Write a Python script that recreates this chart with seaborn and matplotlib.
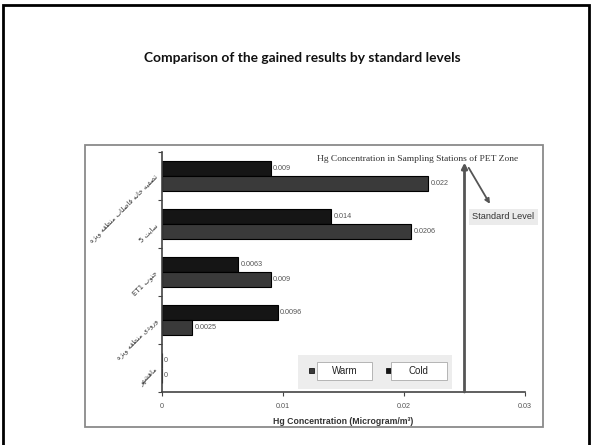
import matplotlib
matplotlib.use("Agg")
import matplotlib.pyplot as plt
from matplotlib.patches import Rectangle
import pandas as pd
import seaborn as sns

# ---- data -------------------------------------------------------------
stations = ["تصفیه خانه فاضلاب منطقه ویژه", "سایت 5", "جنوب ET1",
            "ورودی منطقه ویژه", "ماهشهر"]
seasons = ["Warm", "Cold"]
warm = [0.022, 0.0206, 0.009, 0.0025, 0]
cold = [0.009, 0.014, 0.0063, 0.0096, 0]
x_ticks = [0, 0.01, 0.02, 0.03]
x_tick_labels = ["0", "0.01", "0.02", "0.03"]
standard_level = 0.025
season_colors = {"Warm": "#3a3a3a", "Cold": "#151515"}

# ---- minimal Persian shaping (matplotlib has no complex text layout) --
FORMS = {
    'ا': (0xFE8D, 0xFE8E, None, None), 'آ': (0xFE81, 0xFE82, None, None),
    'ب': (0xFE8F, 0xFE90, 0xFE91, 0xFE92), 'پ': (0xFB56, 0xFB57, 0xFB58, 0xFB59),
    'ت': (0xFE95, 0xFE96, 0xFE97, 0xFE98), 'ث': (0xFE99, 0xFE9A, 0xFE9B, 0xFE9C),
    'ج': (0xFE9D, 0xFE9E, 0xFE9F, 0xFEA0), 'چ': (0xFB7A, 0xFB7B, 0xFB7C, 0xFB7D),
    'ح': (0xFEA1, 0xFEA2, 0xFEA3, 0xFEA4), 'خ': (0xFEA5, 0xFEA6, 0xFEA7, 0xFEA8),
    'د': (0xFEA9, 0xFEAA, None, None), 'ذ': (0xFEAB, 0xFEAC, None, None),
    'ر': (0xFEAD, 0xFEAE, None, None), 'ز': (0xFEAF, 0xFEB0, None, None),
    'ژ': (0xFB8A, 0xFB8B, None, None),
    'س': (0xFEB1, 0xFEB2, 0xFEB3, 0xFEB4), 'ش': (0xFEB5, 0xFEB6, 0xFEB7, 0xFEB8),
    'ص': (0xFEB9, 0xFEBA, 0xFEBB, 0xFEBC), 'ض': (0xFEBD, 0xFEBE, 0xFEBF, 0xFEC0),
    'ط': (0xFEC1, 0xFEC2, 0xFEC3, 0xFEC4), 'ظ': (0xFEC5, 0xFEC6, 0xFEC7, 0xFEC8),
    'ع': (0xFEC9, 0xFECA, 0xFECB, 0xFECC), 'غ': (0xFECD, 0xFECE, 0xFECF, 0xFED0),
    'ف': (0xFED1, 0xFED2, 0xFED3, 0xFED4), 'ق': (0xFED5, 0xFED6, 0xFED7, 0xFED8),
    'ک': (0xFB8E, 0xFB8F, 0xFB90, 0xFB91), 'گ': (0xFB92, 0xFB93, 0xFB94, 0xFB95),
    'ل': (0xFEDD, 0xFEDE, 0xFEDF, 0xFEE0), 'م': (0xFEE1, 0xFEE2, 0xFEE3, 0xFEE4),
    'ن': (0xFEE5, 0xFEE6, 0xFEE7, 0xFEE8), 'و': (0xFEED, 0xFEEE, None, None),
    'ه': (0xFEE9, 0xFEEA, 0xFEEB, 0xFEEC), 'ی': (0xFBFC, 0xFBFD, 0xFBFE, 0xFBFF),
}


def shape_word(word):
    out = []
    for i, ch in enumerate(word):
        f = FORMS.get(ch)
        if f is None:
            out.append(ch)
            continue
        prev = word[i - 1] if i > 0 else ""
        nxt = word[i + 1] if i + 1 < len(word) else ""
        join_prev = prev in FORMS and FORMS[prev][2] is not None
        join_next = nxt in FORMS and f[2] is not None
        if join_prev and join_next:
            cp = f[3]
        elif join_prev:
            cp = f[1]
        elif join_next:
            cp = f[2]
        else:
            cp = f[0]
        out.append(chr(cp))
    return "".join(out)


def rtl(text):
    words = []
    for w in reversed(text.split(" ")):
        if any(c in FORMS for c in w):
            words.append(shape_word(w)[::-1])
        else:
            words.append(w)
    return " ".join(words)


# ---- figure -----------------------------------------------------------
sns.set_style("white")
plt.rcParams["font.family"] = ["Liberation Sans", "DejaVu Sans"]

W, H = 592, 445
fig = plt.figure(figsize=(W / 100, H / 100), dpi=100)
fig.patch.set_facecolor("white")

# slide frame and chart frame
fig.patches.append(Rectangle((3 / W, -0.1), 586 / W, 1.1 - 5 / H,
                             transform=fig.transFigure, fill=False,
                             ec="black", lw=2.0))
fig.patches.append(Rectangle((85 / W, 1 - 427 / H), 458 / W, 282 / H,
                             transform=fig.transFigure, fill=False,
                             ec="#8a8a8a", lw=1.3))

fig.text(302 / W, 1 - 58 / H,
         "Comparison of the gained results by standard levels",
         ha="center", va="center", fontsize=9.9, fontweight="bold",
         family=["Lato", "DejaVu Sans"], color="#111111")

ax = fig.add_axes([162 / W, 53 / H, 363 / W, 240 / H])

df = pd.DataFrame({
    "station": stations * 2,
    "season": ["Warm"] * len(warm) + ["Cold"] * len(cold),
    "value": warm + cold,
})

sns.barplot(data=df, y="station", x="value", hue="season",
            order=stations, hue_order=["Cold", "Warm"],
            palette=season_colors, width=0.625, edgecolor="black",
            linewidth=0.8, orient="h", legend=False, ax=ax)

for cont, season in zip(ax.containers, ["Cold", "Warm"]):
    vals = warm if season == "Warm" else cold
    ax.bar_label(cont, labels=[str(v) for v in vals], padding=1.5,
                 fontsize=5.2, color="#555555")

ax.set_xlim(0, 0.03)
ax.set_ylim(4.5, -0.5)
ax.set_xticks(x_ticks)
ax.set_xticklabels(x_tick_labels, fontsize=5.2, color="#555555")
ax.tick_params(axis="x", length=3, width=0.8, color="#444444", pad=5,
               bottom=True, direction="out")

ax.set_yticks(range(len(stations)))
ax.set_yticklabels([rtl(s) for s in stations], rotation=45, ha="right",
                   va="center", rotation_mode="anchor", fontsize=5,
                   color="#333333", family=["DejaVu Sans"])
ax.tick_params(axis="y", which="major", length=0, pad=4)
ax.set_yticks([i - 0.5 for i in range(len(stations) + 1)], minor=True)
ax.tick_params(axis="y", which="minor", length=3, width=0.8,
               color="#444444", left=True, direction="out")

ax.set_ylabel("")
ax.set_xlabel("Hg Concentration (Microgram/m³)", fontsize=6.3,
              fontweight="bold", color="#333333", labelpad=5)

for side in ("top", "right"):
    ax.spines[side].set_visible(False)
for side in ("left", "bottom"):
    ax.spines[side].set_color("#444444")
    ax.spines[side].set_linewidth(1.2)

# standard level marker
ax.annotate("", xy=(standard_level, -0.28), xytext=(standard_level, 4.5),
            arrowprops=dict(arrowstyle="-|>", color="#555555", lw=2,
                            mutation_scale=8, shrinkA=0, shrinkB=0),
            annotation_clip=False)
ax.annotate("", xy=(0.0271, 0.58), xytext=(0.02535, -0.17),
            arrowprops=dict(arrowstyle="-|>", color="#555555", lw=1.3,
                            mutation_scale=7, shrinkA=0, shrinkB=0),
            annotation_clip=False)
ax.text(0.02822, 0.85, "Standard Level", ha="center", va="center",
        fontsize=6.6, color="#333333", clip_on=False,
        bbox=dict(boxstyle="square,pad=0.35", fc="#ebebeb", ec="none"))

ax.text(0.02116, -0.354, "Hg Concentration in Sampling Stations of PET Zone",
        ha="center", va="center", fontsize=6.8, color="#333333",
        family=["Liberation Serif", "DejaVu Serif"], clip_on=False)

# legend
T = ax.transAxes
ax.add_patch(Rectangle((0.3747, 0.0125), 0.4242, 0.1415, transform=T,
                       fc="#ededed", ec="none", zorder=3))
legend_layout = {"Warm": (0.404, 0.426), "Cold": (0.617, 0.631)}
for season in seasons:
    sq_x, box_x = legend_layout[season]
    ax.add_patch(Rectangle((sq_x, 0.078), 0.0138, 0.0208, transform=T,
                           fc=season_colors[season], ec="black", lw=0.5,
                           zorder=4))
    ax.add_patch(Rectangle((box_x, 0.05), 0.153, 0.076, transform=T,
                           fc="white", ec="#aaaaaa", lw=0.6, zorder=4))
    ax.text(box_x + 0.0765, 0.088, season, transform=T, ha="center",
            va="center", fontsize=7, color="#222222", zorder=5)

fig.savefig("out.png", dpi=100)
